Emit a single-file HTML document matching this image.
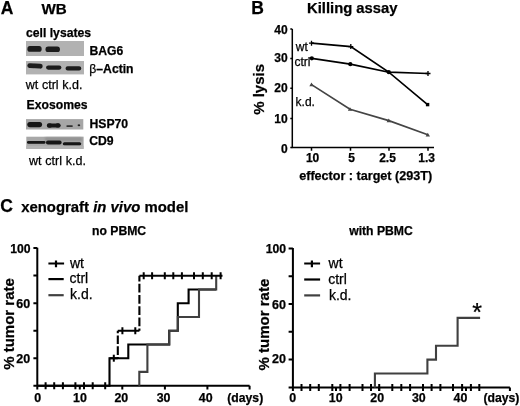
<!DOCTYPE html>
<html><head><meta charset="utf-8">
<style>
html,body{margin:0;padding:0;background:#fff;}
body{width:520px;height:406px;overflow:hidden;}
svg{display:block;}
text{font-family:"Liberation Sans",sans-serif;fill:#000;stroke:#000;stroke-width:0.25px;}
.b{font-weight:bold;}
</style></head>
<body>
<svg width="520" height="406" viewBox="0 0 520 406">
<defs>
<filter id="bl" x="-20%" y="-50%" width="140%" height="200%"><feGaussianBlur stdDeviation="0.6"/></filter>
<filter id="bl2" x="-20%" y="-50%" width="140%" height="200%"><feGaussianBlur stdDeviation="0.9"/></filter>
<filter id="gb" x="0" y="0" width="100%" height="100%"><feGaussianBlur stdDeviation="0.35"/></filter>
</defs>
<g filter="url(#gb)">
<rect x="0" y="0" width="520" height="406" fill="#fff"/>

<!-- ============ PANEL A ============ -->
<text class="b" x="0.8" y="13.8" font-size="17.5">A</text>
<text class="b" x="41.4" y="13.8" font-size="15.2">WB</text>
<text class="b" x="26" y="36.8" font-size="12.2">cell lysates</text>

<!-- blot 1 BAG6 -->
<rect x="26" y="41" width="58" height="15" fill="#b2b2b2"/>
<g filter="url(#bl)" fill="#1a1a1a">
<rect x="27.4" y="45.9" width="14.2" height="5.9" rx="2.6"/>
<rect x="45.5" y="46.4" width="14.4" height="5.6" rx="2.6"/>
</g>
<!-- blot 2 actin -->
<rect x="26" y="61" width="58" height="13.4" fill="#b2b2b2"/>
<g filter="url(#bl)" fill="#1a1a1a">
<rect x="27.3" y="63.5" width="15.4" height="4.8" rx="2.4" transform="rotate(3.5 35 66)"/>
<rect x="46.1" y="65.5" width="15.3" height="4.2" rx="2.1"/>
<rect x="65.6" y="66.3" width="15.6" height="4.1" rx="2"/>
</g>
<text class="b" x="89.5" y="55" font-size="12.2">BAG6</text>
<text x="89.3" y="72.7" font-size="12.2">β<tspan class="b">–Actin</tspan></text>
<text x="25.8" y="89" font-size="12.5" word-spacing="0.2">wt ctrl k.d.</text>

<text class="b" x="26.6" y="109.2" font-size="12.2">Exosomes</text>
<!-- HSP70 -->
<rect x="26" y="119.1" width="57.3" height="10.4" fill="#a6a6a6"/>
<g filter="url(#bl)" fill="#151515">
<rect x="27.3" y="122" width="14.8" height="5.2" rx="2.6"/>
<rect x="47" y="123.6" width="13.4" height="4" rx="2"/>
<ellipse cx="49.5" cy="125.5" rx="2.6" ry="2.2"/>
<ellipse cx="58" cy="125.4" rx="2.6" ry="2.2"/>
<rect x="66.3" y="125.2" width="6.6" height="1.8" rx="0.9" fill="#333"/>
<ellipse cx="78.9" cy="125.2" rx="1.3" ry="1" fill="#222"/>
</g>
<!-- CD9 -->
<rect x="26.3" y="136.7" width="57.3" height="12.2" fill="#a8a8a8"/>
<rect x="26.3" y="145.8" width="57.3" height="3.1" fill="#b3b3b3"/>
<g filter="url(#bl2)" fill="#8e8e8e"><rect x="45" y="137.6" width="37" height="3" /></g>
<g filter="url(#bl)" fill="#151515">
<rect x="27" y="140.9" width="18.5" height="2.9" rx="1.4"/>
<rect x="46" y="140.6" width="15.6" height="3.9" rx="1.9"/>
<rect x="62.8" y="142.3" width="18.4" height="3" rx="1.5"/>
</g>
<text class="b" x="89.5" y="127.7" font-size="12.2">HSP70</text>
<text class="b" x="89.2" y="145.4" font-size="12.2">CD9</text>
<text x="29" y="165.3" font-size="12.5" word-spacing="0.3">wt ctrl k.d.</text>

<!-- ============ PANEL B ============ -->
<text class="b" x="251.2" y="13.8" font-size="17.5">B</text>
<text class="b" x="307" y="13" font-size="14.8">Killing assay</text>
<text class="b" font-size="15" transform="translate(264,89.4) rotate(-90)" text-anchor="middle">% lysis</text>
<g stroke="#000" stroke-width="1.5" fill="none">
<path d="M292.3 28.9 V147.5 H434"/>
<path d="M290.3 29 H292.3 M290.3 58.6 H292.3 M290.3 88.3 H292.3 M290.3 118.5 H292.3 M290.3 147.6 H292.3"/>
<path d="M311.5 147.5 V150.7 M350.5 147.5 V150.7 M389 147.5 V150.7 M428 147.5 V150.7"/>
</g>
<g class="b" font-size="12" text-anchor="end">
<text class="b" x="287.6" y="33.9">40</text>
<text class="b" x="287.6" y="62.2">30</text>
<text class="b" x="287.6" y="92.4">20</text>
<text class="b" x="287.6" y="123.1">10</text>
<text class="b" x="287.6" y="152.7">0</text>
</g>
<g font-size="12" text-anchor="middle">
<text class="b" x="312.6" y="162">10</text>
<text class="b" x="351.5" y="162">5</text>
<text class="b" x="387.5" y="162">2.5</text>
<text class="b" x="426.7" y="162">1.3</text>
</g>
<text class="b" x="299.2" y="180" font-size="12.6">effector : target (293T)</text>
<text x="295.8" y="50.5" font-size="12">wt</text>
<text x="294.4" y="66.4" font-size="12">ctrl</text>
<text x="295.6" y="105.6" font-size="12">k.d.</text>
<!-- data -->
<g fill="none" stroke-width="1.7">
<polyline stroke="#000" points="311.5,43.2 350.8,46.6 388.8,72.2 428,73.5"/>
<polyline stroke="#000" points="311.8,58.4 350.3,64.2 388.8,72.2 427.6,104.6"/>
<polyline stroke="#444" points="311.5,84.6 350,109.2 388.8,120.6 427.8,134.8"/>
</g>
<g stroke="#000" stroke-width="1.3">
<path d="M309 43.2 H314 M311.5 40.7 V45.7 M348.3 46.6 H353.3 M350.8 44.1 V49.1 M425.5 73.5 H430.5 M428 71 V76"/>
</g>
<g fill="#000">
<circle cx="311.8" cy="58.3" r="2.1"/>
<circle cx="350.3" cy="64.2" r="2.1"/>
<circle cx="388.8" cy="72.2" r="2.1"/>
<rect x="425.9" y="102.9" width="3.4" height="3.4"/>
</g>
<g fill="#444">
<path d="M311.5 82.6 l2.2 3.6 h-4.4z M350 107.2 l2.2 3.6 h-4.4z M388.8 118.6 l2.2 3.6 h-4.4z M427.8 132.8 l2.2 3.6 h-4.4z"/>
</g>

<!-- ============ PANEL C ============ -->
<text class="b" x="0.3" y="212.2" font-size="17.5">C</text>
<text class="b" x="21.2" y="211.9" font-size="14.9">xenograft <tspan font-style="italic">in vivo</tspan> model</text>
<text class="b" x="92" y="235.4" font-size="12.2">no PBMC</text>
<text class="b" x="349.2" y="235.4" font-size="12.2">with PBMC</text>

<!-- left chart -->
<text class="b" font-size="15" transform="translate(14,324) rotate(-90)" text-anchor="middle">% tumor rate</text>
<g stroke="#000" stroke-width="2" fill="none">
<path d="M37.3 247.8 V389.5 M33.4 385.7 H249.6"/>
<path d="M33.4 248 H37.3 M33.4 275.6 H37.3 M33.4 303.2 H37.3 M33.4 330.8 H37.3 M33.4 358.2 H37.3"/>
<path d="M79.8 385.7 V389.5 M122.3 385.7 V389.5 M164.9 385.7 V389.5 M207.4 385.7 V389.5 M249.6 385.7 V389.5"/>
</g>
<g font-size="12.5" text-anchor="end">
<text class="b" x="30.5" y="253.3" font-size="12.2">100</text>
<text class="b" x="30.2" y="308.2">60</text>
<text class="b" x="30.2" y="362.6">20</text>
</g>
<g font-size="12.4" text-anchor="middle">
<text class="b" x="37.6" y="402">0</text>
<text class="b" x="79.9" y="402">10</text>
<text class="b" x="121.3" y="402">20</text>
<text class="b" x="163.6" y="402">30</text>
<text class="b" x="205.7" y="402">40</text>
</g>
<text class="b" x="227.3" y="402" font-size="12.2">(days)</text>
<!-- legend -->
<g stroke-width="2.2" fill="none">
<path stroke="#000" d="M48.4 263.5 H64.1 M56 260.6 V267.3"/>
<path stroke="#000" d="M48.4 279.1 H63.7"/>
<path stroke="#404040" d="M48.4 295.2 H63.7"/>
</g>
<g font-size="14">
<text x="70" y="267.6">wt</text>
<text x="69.5" y="283.2">ctrl</text>
<text x="70" y="299">k.d.</text>
</g>
<!-- data left -->
<g fill="none" stroke-width="2.1">
<path stroke="#000" d="M37.3 385.7 H109.5 V358.2 H128.3 V344.5 H169.2 V330.8 H177.8 V303.2 H188.6 V289.5 H216.2"/>
<path stroke="#404040" d="M139.3 385.7 V371.9 H147.4 V344.5 H169.2 V330.8 H177.8 V317 H199 V289.5 H216.2 V275.8"/>
<path stroke="#000" d="M109.5 358.2 H117.8 M117.8 330.8 H139.4 M139.4 275.8 H222.5"/>
<path stroke="#000" stroke-dasharray="8.6 2.2" stroke-dashoffset="6.1" d="M117.8 330.8 V358.2"/>
<path stroke="#000" stroke-dasharray="8.8 2.4" stroke-dashoffset="3.2" d="M139.4 275.8 V330.8"/>
</g>
<g stroke="#000" stroke-width="2" fill="none">
<path d="M45.6 382.3 v7 M54.2 382.3 v7 M62.9 382.3 v7 M75.4 382.3 v7 M84 382.3 v7 M92.7 382.3 v7 M105.2 382.3 v7"/>
<path d="M113.8 354.7 v7"/>
<path d="M122.4 327.3 v7 M135.3 327.3 v7"/>
<path d="M143.7 272.3 v7 M152.1 272.3 v7 M164.8 272.3 v7 M173.3 272.3 v7 M181.9 272.3 v7 M194 272.3 v7 M202.8 272.3 v7 M211.7 272.3 v7 M220.6 272.3 v7"/>
</g>

<!-- right chart -->
<text class="b" font-size="15" transform="translate(268.8,324.6) rotate(-90)" text-anchor="middle">% tumor rate</text>
<g stroke="#000" stroke-width="2" fill="none">
<path d="M292.9 248 V391 M288.6 387.4 H509.9"/>
<path d="M288.6 248.4 H292.9 M288.6 276.2 H292.9 M288.6 304 H292.9 M288.6 331.8 H292.9 M288.6 359.6 H292.9"/>
<path d="M336 387.4 V391 M379.2 387.4 V391 M423 387.4 V391 M466 387.4 V391 M509.9 387.4 V391"/>
</g>
<g font-size="12.5" text-anchor="end">
<text class="b" x="286" y="253.4" font-size="12.2">100</text>
<text class="b" x="286" y="308.6">60</text>
<text class="b" x="286" y="362.9">20</text>
</g>
<g font-size="12.4" text-anchor="middle">
<text class="b" x="292.7" y="402">0</text>
<text class="b" x="335.7" y="402">10</text>
<text class="b" x="377.2" y="402">20</text>
<text class="b" x="418.8" y="402">30</text>
<text class="b" x="460.4" y="402">40</text>
</g>
<text class="b" x="483.5" y="402" font-size="12.2">(days)</text>
<g stroke-width="2.2" fill="none">
<path stroke="#000" d="M304.2 263.5 H320.1 M311.9 260.6 V267.3"/>
<path stroke="#000" d="M304.2 279.5 H320.1"/>
<path stroke="#404040" d="M304.2 295.4 H320.1"/>
</g>
<g font-size="14">
<text x="328.6" y="268.2">wt</text>
<text x="328.2" y="284">ctrl</text>
<text x="328.9" y="299.9">k.d.</text>
</g>
<g fill="none" stroke-width="2.1">
<path stroke="#404040" d="M374.9 387.4 V373.5 H427.4 V359.6 H436 V345.7 H457.6 V317.9 H480.1"/>
</g>
<g stroke="#000" stroke-width="2" fill="none">
<path d="M301.5 384 v7 M310.2 384 v7 M318.8 384 v7 M332.3 384 v7 M340.4 384 v7 M349.6 384 v7 M362.5 384 v7 M371 384 v7 M379.2 384 v7 M392.3 384 v7 M401.3 384 v7 M410.1 384 v7 M423 384 v7 M431.6 384 v7 M440.4 384 v7 M453 384 v7 M462.1 384 v7 M470.9 384 v7 M479.3 384 v7"/>
</g>
<text x="472.2" y="320.6" font-size="25">*</text>
</g>
</svg>
</body></html>
